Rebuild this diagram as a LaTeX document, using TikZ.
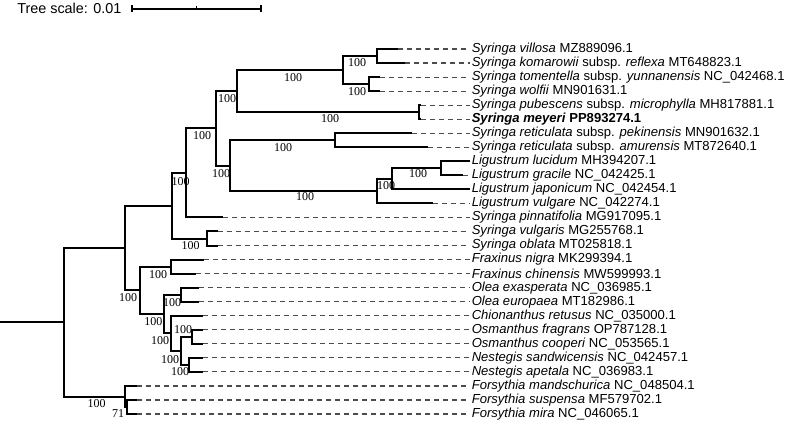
\documentclass[tikz,border=0pt]{standalone}
\usepackage{fontspec}
\setmainfont{Liberation Sans}
\newfontfamily\bootfont{Liberation Serif}
\usepackage{tikz}
\tikzset{%
  brline/.style={line width=1.5pt,draw=black},
  gapline/.style={line width=0.8pt,draw=black!70,dash pattern=on 3.75pt off 3pt},
  scline/.style={line width=1.2pt,draw=black},
  taxtext/.style={anchor=west,inner xsep=1.5pt,inner ysep=0pt,font=\fontsize{9.8}{11}\selectfont},
  bootlab/.style={inner sep=0pt,font=\bootfont\fontsize{9}{10}\selectfont},
  scaletext/.style={anchor=west,inner sep=0pt,font=\fontsize{10.8}{12}\selectfont}
}
\newcommand\taxon[4]{%
  \coordinate (#1) at (#2,#3);
  \node[taxtext] (#1t) at (469.5,#3) {#4};
  \draw[gapline] (#1) -- (#1t.west);
}

\begin{document}
\begin{tikzpicture}[x=0.75pt,y=-0.75pt]
  \useasboundingbox (0,0) rectangle (800,424);

  \node[scaletext] (sclab) at (17,8) {Tree scale: 0.01};
  \coordinate (sca) at (132,9);
  \coordinate (scm) at (196.5,9);
  \coordinate (scb) at (261,9);
  \draw[scline] (sca) -- (scb);
  \draw[scline] (sca) ++(0,-3.5) -- ++(0,7);
  \draw[scline] (scb) ++(0,-3.5) -- ++(0,7);
  \draw[line width=0.8pt] (scm) -- ++(0,-3);

  \taxon{lvil}{398}{49.0}{\textit{Syringa villosa} MZ889096.1}
  \taxon{lkom}{405}{63.0}{\textit{Syringa komarowii} subsp. \textit{reflexa} MT648823.1}
  \taxon{ltom}{380}{77.1}{\textit{Syringa tomentella} subsp. \textit{yunnanensis} NC\_042468.1}
  \taxon{lwol}{380}{91.1}{\textit{Syringa wolfii} MN901631.1}
  \taxon{lpub}{421}{105.2}{\textit{Syringa pubescens} subsp. \textit{microphylla} MH817881.1}
  \taxon{lmey}{421}{119.2}{\textbf{\textit{Syringa meyeri} PP893274.1}}
  \taxon{lpek}{411.7}{133.2}{\textit{Syringa reticulata} subsp. \textit{pekinensis} MN901632.1}
  \taxon{lamu}{428}{147.3}{\textit{Syringa reticulata} subsp. \textit{amurensis} MT872640.1}
  \taxon{lluc}{469.5}{161.3}{\textit{Ligustrum lucidum} MH394207.1}
  \taxon{lgra}{463}{175.4}{\textit{Ligustrum gracile} NC\_042425.1}
  \taxon{ljap}{469.5}{189.4}{\textit{Ligustrum japonicum} NC\_042454.1}
  \taxon{lvul}{433}{203.4}{\textit{Ligustrum vulgare} NC\_042274.1}
  \taxon{lpin}{222.7}{217.5}{\textit{Syringa pinnatifolia} MG917095.1}
  \taxon{lsvu}{217.7}{231.5}{\textit{Syringa vulgaris} MG255768.1}
  \taxon{lobl}{217.7}{245.6}{\textit{Syringa oblata} MT025818.1}
  \taxon{lfni}{204}{259.6}{\textit{Fraxinus nigra} MK299394.1}
  \taxon{lfch}{195.5}{273.6}{\textit{Fraxinus chinensis} MW599993.1}
  \taxon{lexa}{199}{287.7}{\textit{Olea exasperata} NC\_036985.1}
  \taxon{leur}{199}{301.7}{\textit{Olea europaea} MT182986.1}
  \taxon{lchi}{203}{315.8}{\textit{Chionanthus retusus} NC\_035000.1}
  \taxon{lfra}{203}{329.8}{\textit{Osmanthus fragrans} OP787128.1}
  \taxon{lcoo}{203}{343.8}{\textit{Osmanthus cooperi} NC\_053565.1}
  \taxon{lsan}{203}{357.9}{\textit{Nestegis sandwicensis} NC\_042457.1}
  \taxon{lape}{203}{371.9}{\textit{Nestegis apetala} NC\_036983.1}
  \taxon{lman}{137}{386.0}{\textit{Forsythia mandschurica} NC\_048504.1}
  \taxon{lsus}{137}{400.0}{\textit{Forsythia suspensa} MF579702.1}
  \taxon{lmir}{137}{414.0}{\textit{Forsythia mira} NC\_046065.1}

  \coordinate (nvk) at (376.7,56.0);
  \coordinate (ntw) at (369,84.1);
  \coordinate (nvw) at (342.7,70.05);
  \coordinate (npm) at (419,112.2);
  \coordinate (nsyr) at (237,91.1);
  \coordinate (nret) at (335,140.25);
  \coordinate (nlg) at (441,168.35);
  \coordinate (nlj) at (392,178.9);
  \coordinate (nlig) at (377,191.15);
  \coordinate (nrl) at (230,165.7);
  \coordinate (nsl) at (215.7,128.4);
  \coordinate (nsp) at (186,172.95);
  \coordinate (nvo) at (207,238.55);
  \coordinate (nsyl) at (172.3,205.75);
  \coordinate (nfra) at (171,266.6);
  \coordinate (nole) at (181,294.7);
  \coordinate (nosm) at (192,336.8);
  \coordinate (nnes) at (189,364.9);
  \coordinate (non) at (181,350.85);
  \coordinate (ncon) at (171,333.3);
  \coordinate (noc) at (164,314.0);
  \coordinate (nfo) at (140,290.3);
  \coordinate (nin) at (125,248.0);
  \coordinate (nsm) at (127,407.0);
  \coordinate (nfor) at (125,396.5);
  \coordinate (root) at (63.5,322.25);
  \coordinate (base) at (0,322.25);

  \draw[brline] (base) -- (root)
    (root) |- (nin) (root) |- (nfor)
    (nin) |- (nsyl) (nin) |- (nfo)
    (nsyl) |- (nsp) (nsyl) |- (nvo)
    (nsp) |- (nsl) (nsp) |- (lpin)
    (nsl) |- (nsyr) (nsl) |- (nrl)
    (nsyr) |- (nvw) (nsyr) |- (npm)
    (nvw) |- (nvk) (nvw) |- (ntw)
    (nvk) |- (lvil) (nvk) |- (lkom)
    (ntw) |- (ltom) (ntw) |- (lwol)
    (npm) |- (lpub) (npm) |- (lmey)
    (nrl) |- (nret) (nrl) |- (nlig)
    (nret) |- (lpek) (nret) |- (lamu)
    (nlig) |- (nlj) (nlig) |- (lvul)
    (nlj) |- (nlg) (nlj) |- (ljap)
    (nlg) |- (lluc) (nlg) |- (lgra)
    (nvo) |- (lsvu) (nvo) |- (lobl)
    (nfo) |- (nfra) (nfo) |- (noc)
    (nfra) |- (lfni) (nfra) |- (lfch)
    (noc) |- (nole) (noc) |- (ncon)
    (nole) |- (lexa) (nole) |- (leur)
    (ncon) |- (lchi) (ncon) |- (non)
    (non) |- (nosm) (non) |- (nnes)
    (nosm) |- (lfra) (nosm) |- (lcoo)
    (nnes) |- (lsan) (nnes) |- (lape)
    (nfor) |- (lman) (nfor) |- (nsm)
    (nsm) |- (lsus) (nsm) |- (lmir);

  \node[bootlab] (bvk) at (357,63) {100};
  \node[bootlab] (btw) at (357,92) {100};
  \node[bootlab] (bvw) at (293,78) {100};
  \node[bootlab] (bpm) at (330,119) {100};
  \node[bootlab] (bsyr) at (227,99) {100};
  \node[bootlab] (bsl) at (202,136) {100};
  \node[bootlab] (bsp) at (180.7,181.7) {100};
  \node[bootlab] (brl) at (221,173.3) {100};
  \node[bootlab] (bret) at (283,148) {100};
  \node[bootlab] (blig) at (305,197) {100};
  \node[bootlab] (blj) at (386,186) {100};
  \node[bootlab] (blg) at (418,174) {100};
  \node[bootlab] (bvo) at (190.7,246) {100};
  \node[bootlab] (bfra) at (158,274.5) {100};
  \node[bootlab] (bfo) at (128,298) {100};
  \node[bootlab] (boc) at (153.3,322) {100};
  \node[bootlab] (bole) at (172,302.5) {100};
  \node[bootlab] (bcon) at (160,340.7) {100};
  \node[bootlab] (bon) at (170,359.3) {100};
  \node[bootlab] (bosm) at (183,330) {100};
  \node[bootlab] (bnes) at (180,371.7) {100};
  \node[bootlab] (bfor) at (96.7,404) {100};
  \node[bootlab] (bsm) at (118,414) {71};
\end{tikzpicture}
\end{document}
